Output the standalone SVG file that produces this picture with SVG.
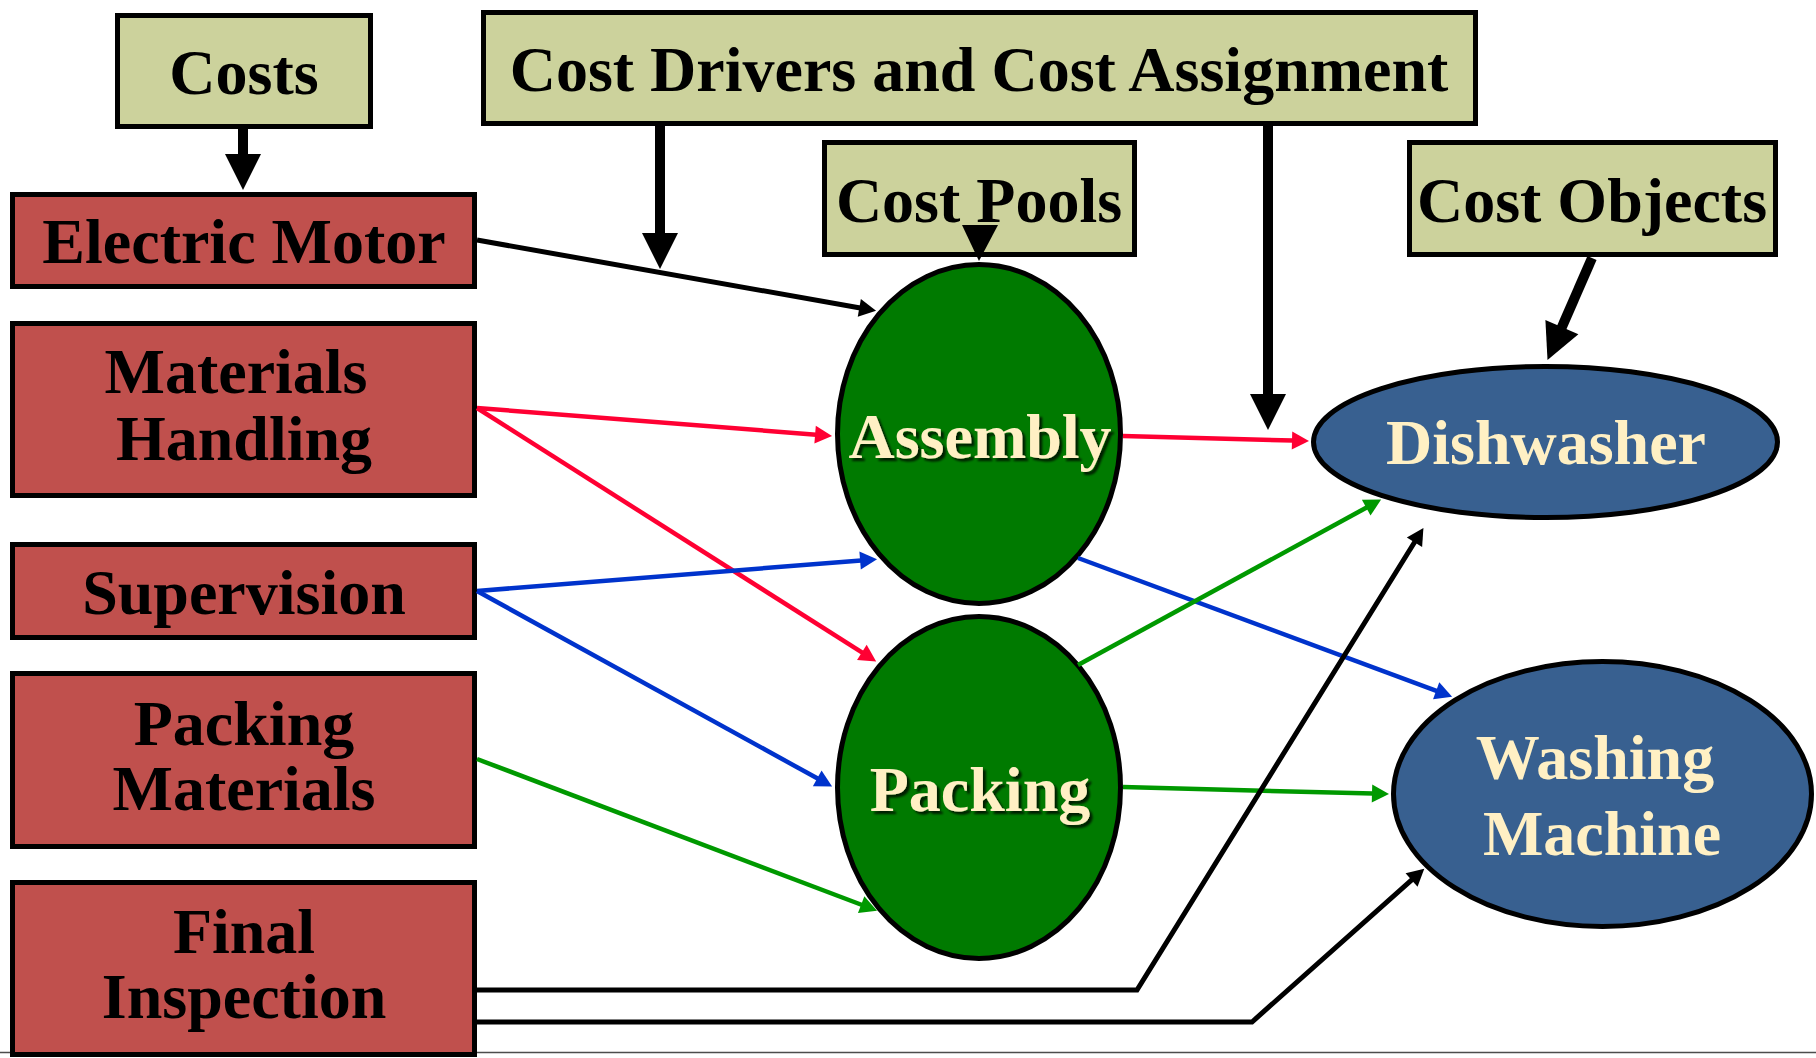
<svg xmlns="http://www.w3.org/2000/svg" width="1816" height="1058" viewBox="0 0 1816 1058">
  <style>
    .label { font-family: "Liberation Serif", "Times New Roman", serif; font-weight: bold; font-size: 64px; text-anchor: middle; }
    .dark { fill: #000000; }
    .light { fill: #FFF0C4; }
    .hdr { fill: #CCD29C; stroke: #000000; stroke-width: 5; }
    .cost { fill: #C0504D; stroke: #000000; stroke-width: 5; }
    .pool { fill: #007A00; stroke: #000000; stroke-width: 5; }
    .obj { fill: #386090; stroke: #000000; stroke-width: 5; }
    .thick { stroke: #000000; stroke-width: 10; fill: none; marker-end: url(#bigHead); }
    .thin { fill: none; stroke-width: 4.5; }
    .blk { stroke: #000000; stroke-width: 5; marker-end: url(#headBlack); }
    .red { stroke: #FF0033; marker-end: url(#headRed); }
    .blu { stroke: #0033CC; marker-end: url(#headBlue); }
    .grn { stroke: #009900; marker-end: url(#headGreen); }
  </style>
  <defs>
    <marker id="bigHead" markerUnits="userSpaceOnUse" markerWidth="38" markerHeight="38" refX="1" refY="18" orient="auto" overflow="visible">
      <path d="M0,0 L36,18 L0,36 Z" fill="#000000"/>
    </marker>
    <marker id="headBlack" markerUnits="userSpaceOnUse" markerWidth="19" markerHeight="19" refX="1" refY="9" orient="auto" overflow="visible">
      <path d="M0,0 L17,9 L0,18 Z" fill="#000000"/>
    </marker>
    <marker id="headRed" markerUnits="userSpaceOnUse" markerWidth="19" markerHeight="19" refX="1" refY="9" orient="auto" overflow="visible">
      <path d="M0,0 L17,9 L0,18 Z" fill="#FF0033"/>
    </marker>
    <marker id="headBlue" markerUnits="userSpaceOnUse" markerWidth="19" markerHeight="19" refX="1" refY="9" orient="auto" overflow="visible">
      <path d="M0,0 L17,9 L0,18 Z" fill="#0033CC"/>
    </marker>
    <marker id="headGreen" markerUnits="userSpaceOnUse" markerWidth="19" markerHeight="19" refX="1" refY="9" orient="auto" overflow="visible">
      <path d="M0,0 L17,9 L0,18 Z" fill="#009900"/>
    </marker>
    <filter id="shadow" x="-10%" y="-20%" width="130%" height="150%">
      <feDropShadow dx="3" dy="3" stdDeviation="1.2" flood-color="#000000" flood-opacity="0.75"/>
    </filter>
  </defs>

  <rect width="1816" height="1058" fill="#FFFFFF"/>

  <!-- page rule along the bottom edge -->
  <line x1="0" y1="1052.5" x2="1816" y2="1052.5" stroke="#4D4D4D" stroke-width="1.5"/>

  <!-- header boxes -->
  <g id="costs">
    <rect class="hdr" x="117.5" y="15.5" width="253" height="111"/>
    <text class="label dark" x="244" y="94">Costs</text>
  </g>
  <g id="cost-drivers">
    <rect class="hdr" x="483.5" y="12.5" width="992" height="111"/>
    <text class="label dark" x="979" y="91">Cost Drivers and Cost Assignment</text>
  </g>
  <g id="cost-pools">
    <rect class="hdr" x="824.5" y="142.5" width="310" height="112"/>
    <text class="label dark" x="979" y="222">Cost Pools</text>
  </g>
  <g id="cost-objects">
    <rect class="hdr" x="1409.5" y="142.5" width="366" height="112"/>
    <text class="label dark" x="1592" y="222">Cost Objects</text>
  </g>

  <!-- cost items -->
  <g id="electric-motor">
    <rect class="cost" x="12.5" y="194.5" width="462" height="92"/>
    <text class="label dark" x="244" y="263">Electric Motor</text>
  </g>
  <g id="materials-handling">
    <rect class="cost" x="12.5" y="323.5" width="462" height="172"/>
    <text class="label dark" x="236" y="393">Materials</text>
    <text class="label dark" x="244" y="460">Handling</text>
  </g>
  <g id="supervision">
    <rect class="cost" x="12.5" y="544.5" width="462" height="93"/>
    <text class="label dark" x="244" y="614">Supervision</text>
  </g>
  <g id="packing-materials">
    <rect class="cost" x="12.5" y="673.5" width="462" height="173"/>
    <text class="label dark" x="244" y="745">Packing</text>
    <text class="label dark" x="244" y="810">Materials</text>
  </g>
  <g id="final-inspection">
    <rect class="cost" x="12.5" y="882.5" width="462" height="172"/>
    <text class="label dark" x="244" y="953">Final</text>
    <text class="label dark" x="244" y="1018">Inspection</text>
  </g>

  <!-- cost pools -->
  <g id="assembly">
    <ellipse class="pool" cx="979" cy="434" rx="141.5" ry="169.5"/>
    <text class="label light" x="980" y="458" filter="url(#shadow)">Assembly</text>
  </g>
  <g id="packing">
    <ellipse class="pool" cx="979" cy="787.5" rx="141.5" ry="171"/>
    <text class="label light" x="980" y="811" filter="url(#shadow)">Packing</text>
  </g>

  <!-- cost objects -->
  <g id="dishwasher">
    <ellipse class="obj" cx="1545.5" cy="442" rx="232" ry="75.5"/>
    <text class="label light" x="1546" y="464">Dishwasher</text>
  </g>
  <g id="washing-machine">
    <ellipse class="obj" cx="1602.5" cy="794" rx="209" ry="132.5"/>
    <text class="label light" x="1595" y="779">Washing</text>
    <text class="label light" x="1602" y="855">Machine</text>
  </g>

  <!-- connectors -->
  <g id="connectors">
    <!-- heavy header arrows -->
    <line class="thick" x1="243" y1="128" x2="243" y2="155"/>
    <line class="thick" x1="660" y1="125" x2="660" y2="234"/>
    <line class="thick" x1="1268" y1="125" x2="1268" y2="395"/>
    <line class="thick" x1="1592" y1="258" x2="1561.5" y2="328"/>
    <path d="M962,225 L998,225 L979,261 Z" fill="#000000"/>

    <!-- cost items to pools -->
    <line class="thin blk" x1="477" y1="240" x2="860.3" y2="308"/>
    <line class="thin red" x1="477" y1="408" x2="816.1" y2="434.7"/>
    <line class="thin red" x1="477" y1="408" x2="862.7" y2="652.9"/>
    <line class="thin blu" x1="477" y1="591" x2="861.1" y2="560.4"/>
    <line class="thin blu" x1="477" y1="591" x2="818.1" y2="778.8"/>
    <line class="thin grn" x1="477" y1="759" x2="862.1" y2="905"/>

    <!-- pools to objects -->
    <line class="thin red" x1="1123" y1="436" x2="1293" y2="440.5"/>
    <line class="thin blu" x1="1078" y1="558" x2="1437.1" y2="691.1"/>
    <line class="thin grn" x1="1078" y1="665" x2="1367.1" y2="507.2"/>
    <line class="thin grn" x1="1123" y1="787" x2="1373" y2="793.6"/>

    <!-- final inspection traced directly to the objects -->
    <polyline class="thin blk" points="477,990 1137,990 1415,541.5"/>
    <polyline class="thin blk" points="477,1022 1252,1022 1412.3,879.3"/>
  </g>
</svg>
